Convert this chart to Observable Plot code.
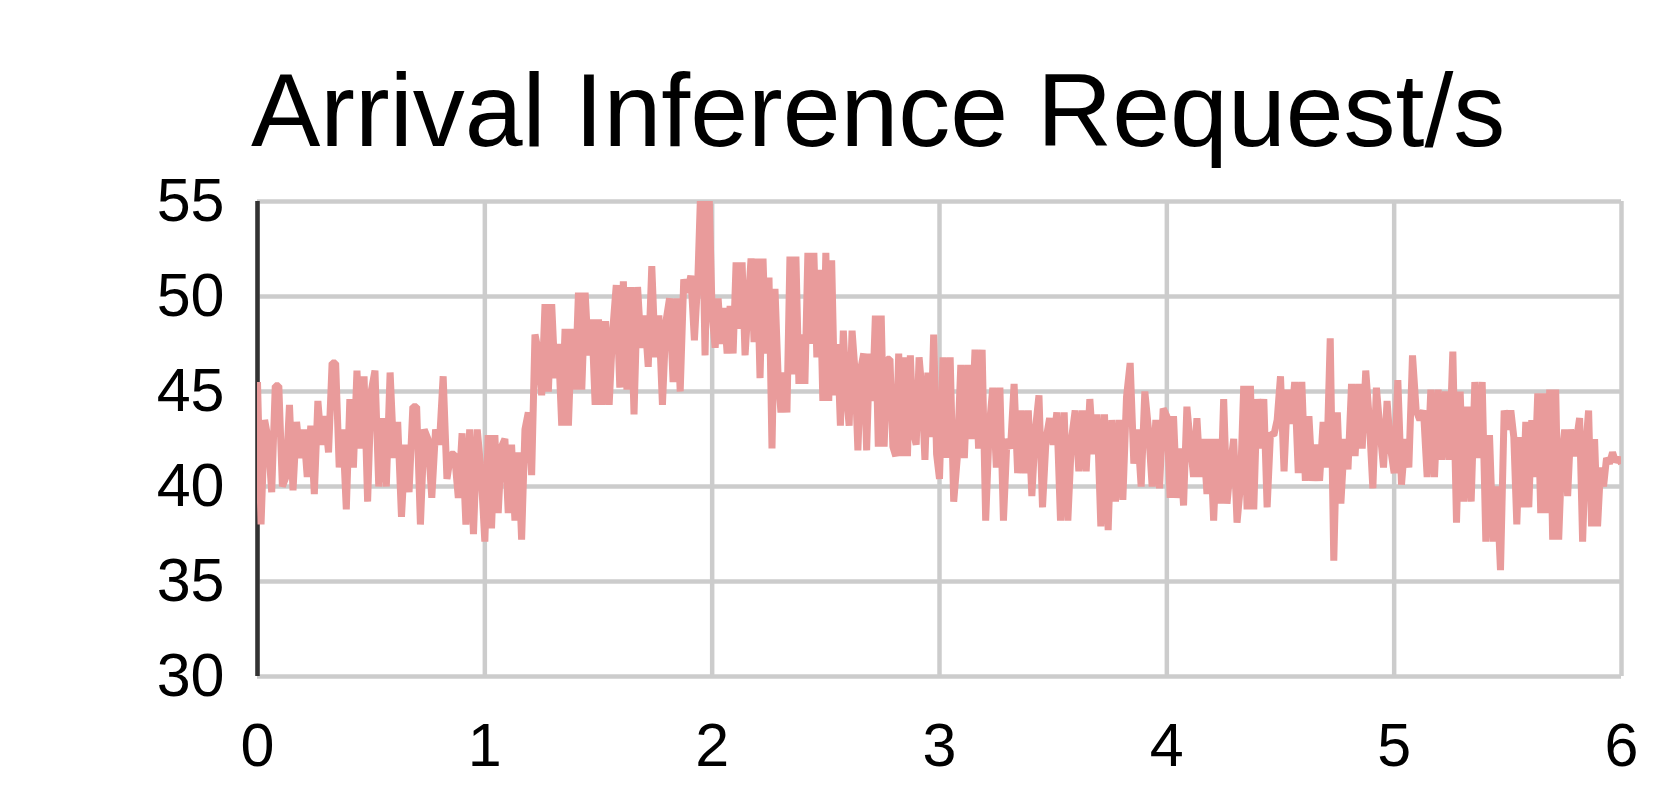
<!DOCTYPE html>
<html>
<head>
<meta charset="utf-8">
<script src="https://cdn.jsdelivr.net/npm/d3@7"></script>
<script src="https://cdn.jsdelivr.net/npm/@observablehq/plot@0.6"></script>
<style>
  html, body { margin: 0; padding: 0; background: #ffffff; }
  #wrap { width: 1661px; height: 805px; overflow: hidden; font-family: "Liberation Sans", Arial, sans-serif; }
  #title { height: 106px; padding-top: 59px; padding-left: 251px; font-size: 104px; line-height: 103px; color: #000; white-space: nowrap; }
  svg { display: block; }
</style>
</head>
<body>
<div id="wrap">
  <div id="title">Arrival Inference Request/s</div>
  <div id="chart"></div>
</div>
<script>
// Tick values
const xTicks = [0, 1, 2, 3, 4, 5, 6];
const yTicks = [30, 35, 40, 45, 50, 55];

// Arrival requests per second, one array per half-unit of time
const seg00 = [45.5, 38.0, 43.5, 42.5, 39.7, 45.3, 45.3, 40.0, 40.5, 44.3, 39.8, 43.4, 41.5, 43.0, 40.5, 43.2, 39.6, 44.5, 42.2, 43.7, 41.8, 46.5, 46.5, 41.0, 43.0, 38.8, 44.6, 41.0, 46.1, 42.0, 45.8, 39.2];
const seg05 = [45.0, 46.1, 40.0, 43.6, 40.0, 46.0, 41.5, 43.4, 38.4, 42.2, 39.7, 44.2, 44.2, 38.0, 43.0, 42.5, 39.4, 43.0, 42.2, 45.8, 40.4, 41.7, 41.7, 39.4, 42.8, 38.0, 43.0, 37.5, 43.0, 40.8];
const seg10 = [37.1, 42.7, 37.8, 42.7, 38.6, 42.1, 42.5, 38.6, 42.2, 38.2, 41.8, 37.2, 43.0, 43.9, 40.6, 48.0, 47.1, 44.8, 49.6, 45.0, 49.6, 45.7, 47.5, 43.2, 48.3, 43.2, 48.3, 45.1, 50.2, 45.1, 50.2, 46.9, 48.8, 44.3];
const seg15 = [48.8, 44.3, 48.7, 44.3, 48.2, 50.6, 45.2, 50.8, 45.1, 50.5, 43.8, 50.5, 47.3, 49.0, 46.3, 51.6, 46.8, 49.0, 44.3, 48.7, 49.9, 45.5, 49.9, 45.0, 50.9, 50.2, 51.1, 47.7, 51.1, 57.0, 46.9, 56.5];
const seg20 = [49.0, 47.3, 49.9, 47.5, 49.4, 47.0, 49.5, 47.0, 51.8, 48.3, 51.8, 46.9, 49.5, 52.0, 47.6, 52.0, 45.7, 52.0, 47.0, 51.0, 42.0, 50.4, 46.0, 43.9, 46.0, 43.9, 52.1, 45.9, 52.1, 45.4, 48.0, 45.4, 52.3, 47.5, 52.3, 46.8, 51.4, 44.5];
const seg25 = [52.3, 44.5, 51.9, 44.8, 47.5, 43.2, 48.2, 45.0, 43.2, 48.2, 46.1, 41.9, 46.2, 47.0, 41.9, 47.0, 44.5, 49.0, 42.1, 49.0, 42.1, 46.7, 46.7, 42.1, 41.6, 47.0, 41.6, 46.8, 41.6, 46.9, 42.9, 42.2, 46.8, 45.0, 41.4, 46.0, 42.6, 48.0, 41.7];
const seg30 = [40.4, 46.8, 41.5, 46.8, 39.2, 41.5, 46.4, 41.5, 46.4, 42.5, 47.2, 42.0, 47.2, 38.2, 43.1, 45.2, 41.0, 45.2, 38.2, 42.5, 42.0, 45.4, 40.7, 44.0, 40.7, 44.0, 39.5, 43.0, 44.8, 38.9, 42.5, 43.6];
const seg35 = [42.2, 43.9, 38.2, 43.9, 38.2, 42.5, 44.0, 40.8, 44.0, 40.8, 44.6, 41.7, 43.8, 37.9, 43.8, 37.7, 43.5, 39.2, 43.5, 39.3, 44.7, 46.5, 41.2, 43.0, 40.0, 45.0, 43.0, 40.0, 43.5, 39.9, 44.1];
const seg40 = [43.7, 39.4, 43.7, 39.4, 42.0, 39.0, 44.2, 42.3, 40.5, 43.6, 40.5, 42.5, 39.6, 42.5, 38.2, 42.5, 39.1, 44.6, 39.1, 41.0, 42.5, 38.1, 40.0, 45.3, 38.8, 45.3, 38.8, 44.6, 42.0, 44.6, 38.9, 42.8, 42.7, 43.5];
const seg45 = [45.8, 40.8, 45.1, 43.3, 45.5, 40.7, 45.5, 40.3, 43.7, 40.3, 42.2, 40.3, 43.4, 41.0, 47.8, 36.1, 43.9, 39.1, 42.5, 40.9, 45.4, 41.6, 45.4, 42.0, 46.1, 43.5, 39.9, 45.2, 43.0, 41.0, 44.5, 42.0];
const seg50 = [40.7, 45.6, 40.1, 42.5, 41.0, 46.9, 44.0, 43.5, 44.0, 40.5, 45.1, 40.5, 45.1, 41.4, 45.0, 41.4, 47.1, 38.1, 45.0, 39.2, 44.2, 39.2, 45.5, 41.5, 45.5, 37.1, 42.7, 37.1, 40.0, 35.6, 44.0];
const seg55 = [43.0, 44.0, 42.6, 38.0, 42.6, 38.9, 43.4, 38.9, 43.5, 40.5, 44.9, 38.6, 44.9, 38.6, 45.1, 37.2, 45.1, 37.2, 41.5, 43.0, 39.5, 43.0, 41.6, 42.5, 43.6, 37.1, 42.0, 44.0, 37.9, 42.5, 37.9, 41.0, 40.0, 41.5, 41.2, 41.8, 41.3, 41.5, 41.2];

const segments = [seg00, seg05, seg10, seg15, seg20, seg25, seg30, seg35, seg40, seg45, seg50, seg55];
const data = [];
segments.forEach((vals, k) => {
  const last = k === segments.length - 1;
  const n = last ? vals.length - 1 : vals.length;
  vals.forEach((v, j) => data.push({t: k * 0.5 + 0.5 * j / n, v}));
});

const chart = Plot.plot({
  width: 1661,
  height: 640,
  marginLeft: 257,
  marginRight: 40,
  marginTop: 36,
  marginBottom: 129,
  style: {fontFamily: "'Liberation Sans', Arial, sans-serif", background: "#ffffff", color: "#000"},
  x: {domain: [0, 6]},
  y: {domain: [30, 55]},
  marks: [
    Plot.gridY(yTicks, {stroke: "#cccccc", strokeOpacity: 1, strokeWidth: 4.5}),
    Plot.gridX(xTicks, {stroke: "#cccccc", strokeOpacity: 1, strokeWidth: 4.5}),
    Plot.ruleX([0], {stroke: "#333333", strokeWidth: 4.5}),
    Plot.line(data, {x: "t", y: "v", stroke: "#e99b9b", strokeWidth: 7, strokeLinejoin: "miter", strokeLinecap: "butt", clip: true}),
    Plot.axisY(yTicks, {tickSize: 0, tickPadding: 33, fontSize: 61, fill: "#000", label: null, tickFormat: d => String(d)}),
    Plot.axisX(xTicks, {tickSize: 0, tickPadding: 46, fontSize: 61, fill: "#000", label: null, tickFormat: d => String(d)})
  ]
});
document.getElementById("chart").appendChild(chart);
</script>
</body>
</html>
